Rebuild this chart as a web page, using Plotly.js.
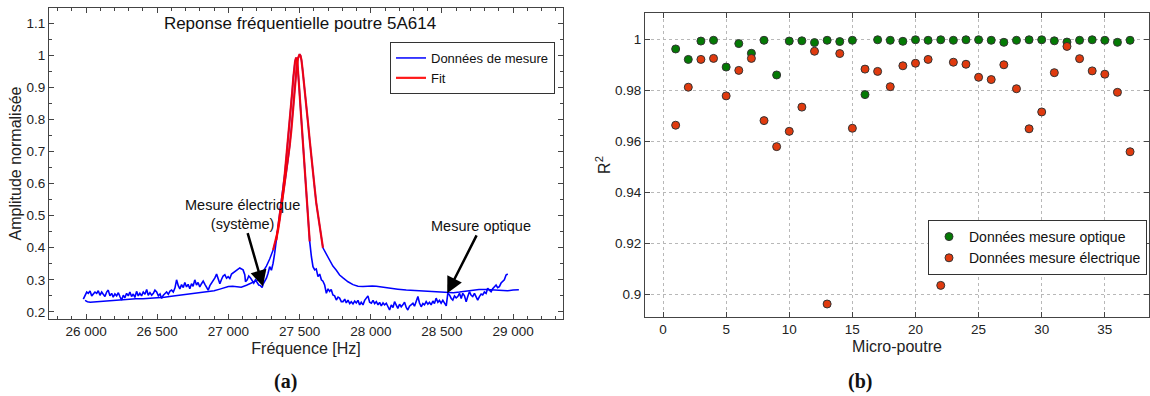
<!DOCTYPE html>
<html>
<head>
<meta charset="utf-8">
<script src="https://cdn.plot.ly/plotly-3.0.1.min.js"></script>
<style>html,body{margin:0;padding:0;background:#fff;}#chart{width:1150px;height:396px;}</style>
</head>
<body>
<div id="chart"></div>
<script>
// ---- (a) Frequency response, smooth measurement curve ----
const freqSmooth = [25993,26010,26030,26060,26100,26150,26200,26250,26300,26350,26400,26450,26500,26550,26600,26650,26700,26750,26800,26850,26900,26940,26970,27000,27030,27060,27090,27127,27173,27200,27220,27243,27267,27290,27314,
 27337,27349,27361,27372,27384,27396,27407,27419,27431,27443,27454,27463,27472,27480,27489,27495,27500,27507,27513,27521,27530,27539,27548,27559,27571,27582,27594,27606,27617,27629,27641,27652,27664,
 27688,27711,27734,27758,27781,27805,27840,27875,27910,27945,27980,28010,28039,28080,28132,28190,28249,28320,28389,28460,28530,28580,28623,28670,28716,28760,28810,28860,28903,28960,29000,29040];
const ampSmooth = [0.236,0.232,0.230,0.231,0.233,0.235,0.237,0.239,0.240,0.241,0.241,0.242,0.244,0.246,0.249,0.252,0.254,0.256,0.259,0.262,0.266,0.271,0.276,0.279,0.280,0.278,0.277,0.283,0.291,0.298,0.310,0.325,0.343,0.365,0.393,
 0.430,0.455,0.490,0.525,0.560,0.600,0.635,0.675,0.720,0.770,0.830,0.880,0.930,0.965,0.990,1.000,1.003,0.998,0.985,0.955,0.920,0.880,0.840,0.790,0.735,0.680,0.630,0.585,0.540,0.500,0.465,0.432,0.400,
 0.380,0.362,0.343,0.330,0.315,0.306,0.294,0.285,0.280,0.279,0.281,0.281,0.280,0.277,0.274,0.271,0.268,0.266,0.264,0.262,0.261,0.260,0.262,0.265,0.268,0.270,0.270,0.268,0.266,0.266,0.268,0.269];

// ---- (a) Frequency response, noisy measurement curve ----
const freqNoisy = [25981,25995,26005,26016,26028,26040,26051,26063,26075,26086,26098,26110,26121,26133,26145,26156,26168,26180,26191,26203,26215,26227,26238,26250,26262,26273,26285,26297,26308,26320,26332,26343,26355,26367,26378,26390,26402,26414,26426,26437,26449,26461,26473,26484,26496,26508,26520,26531,26543,26555,26566,26578,26590,26601,26613,26625,26636,26648,26659,26671,26683,26694,26706,26717,26729,26741,26752,26764,26776,26787,26799,26811,26823,26835,26846,26858,26870,26881,26893,26905,26917,26928,26940,26952,26963,26975,26987,26998,27010,27022,27033,27045,27057,27068,27080,27092,27103,27115,27120,27132,27143,27155,27167,27178,27190,27202,27213,27225,27237,27243,27255,27267,27278,27290,27302,27314,27325,27337,
 27349,27361,27372,27384,27396,27407,27419,27431,27440,27449,27456,27462,27468,27474,27480,27485,27489,27497,27506,27515,27524,27533,27543,27551,27559,27565,27571,
 27583,27594,27606,27617,27629,27641,27653,27664,27676,27688,27700,27711,27722,27734,27746,27758,27770,27781,27793,27805,27817,27828,27840,27852,27863,27875,27887,27898,27910,27922,27933,27945,27957,27968,27980,27992,28004,28016,28027,28039,28051,28062,28074,28086,28097,28109,28121,28132,28144,28156,28167,28179,28190,28202,28214,28225,28237,28249,28260,28272,28284,28296,28307,28319,28331,28342,28354,28366,28377,28389,28401,28412,28424,28436,28447,28459,28471,28482,28494,28506,28518,28530,28541,28553,28565,28576,28588,28600,28611,28623,28635,28646,28658,28670,28681,28693,28705,28716,28728,28740,28751,28763,28775,28786,28798,28810,28821,28833,28845,28856,28868,28880,28891,28903,28915,28927,28938,28950,28962];
const ampNoisy = [0.240,0.252,0.262,0.258,0.265,0.250,0.256,0.262,0.258,0.266,0.252,0.262,0.255,0.248,0.262,0.268,0.250,0.258,0.246,0.256,0.250,0.260,0.248,0.237,0.252,0.244,0.258,0.250,0.262,0.248,0.256,0.245,0.264,0.250,0.258,0.250,0.262,0.255,0.270,0.252,0.260,0.252,0.258,0.268,0.262,0.250,0.256,0.242,0.252,0.258,0.262,0.255,0.265,0.268,0.262,0.275,0.300,0.282,0.272,0.285,0.276,0.292,0.278,0.286,0.272,0.288,0.280,0.300,0.284,0.292,0.278,0.288,0.296,0.286,0.275,0.268,0.282,0.290,0.296,0.306,0.318,0.300,0.288,0.302,0.312,0.316,0.305,0.310,0.304,0.318,0.322,0.326,0.330,0.334,0.337,0.334,0.331,0.316,0.294,0.300,0.312,0.306,0.296,0.290,0.300,0.292,0.284,0.282,0.276,0.286,0.296,0.305,0.320,0.341,0.330,0.352,0.383,0.424,
 0.460,0.500,0.540,0.580,0.630,0.680,0.735,0.790,0.840,0.890,0.930,0.960,0.980,0.990,0.990,0.975,0.955,0.900,0.840,0.780,0.715,0.650,0.580,0.520,0.470,0.445,0.420,
 0.372,0.341,0.331,0.334,0.310,0.318,0.300,0.296,0.284,0.258,0.272,0.264,0.270,0.253,0.250,0.237,0.246,0.243,0.232,0.232,0.240,0.228,0.237,0.226,0.232,0.225,0.234,0.228,0.236,0.222,0.230,0.222,0.236,0.242,0.250,0.230,0.227,0.236,0.226,0.232,0.222,0.230,0.219,0.228,0.222,0.227,0.215,0.206,0.222,0.214,0.232,0.220,0.211,0.224,0.216,0.222,0.230,0.214,0.206,0.218,0.224,0.227,0.218,0.236,0.248,0.228,0.216,0.226,0.222,0.232,0.224,0.230,0.222,0.234,0.226,0.243,0.230,0.236,0.227,0.236,0.228,0.219,0.258,0.253,0.242,0.237,0.250,0.244,0.248,0.258,0.242,0.258,0.250,0.232,0.248,0.263,0.252,0.248,0.258,0.246,0.237,0.248,0.256,0.253,0.262,0.258,0.274,0.268,0.263,0.272,0.278,0.284,0.276,0.279,0.290,0.294,0.300,0.315,0.318];

// ---- (a) Fits ----
const fitNarrowFreq = [27337,27349,27361,27372,27384,27396,27407,27419,27431,27440,27449,27456,27462,27468,27474,27480,27485,27489,27497,27506,27515,27524,27533,27543,27551,27559,27565,27571];
const fitNarrowAmp  = [0.424,0.460,0.500,0.540,0.580,0.630,0.680,0.735,0.790,0.840,0.890,0.930,0.960,0.980,0.990,0.990,0.975,0.955,0.900,0.840,0.780,0.715,0.650,0.580,0.520,0.470,0.445,0.420];
const fitWideFreq = [27314,27337,27349,27361,27372,27384,27396,27407,27419,27431,27443,27454,27463,27472,27480,27489,27495,27500,27507,27513,27521,27530,27539,27548,27559,27571,27582,27594,27606,27617,27629,27641,27652,27664];
const fitWideAmp  = [0.393,0.430,0.455,0.490,0.525,0.560,0.600,0.635,0.675,0.720,0.770,0.830,0.880,0.930,0.965,0.990,1.000,1.003,0.998,0.985,0.955,0.920,0.880,0.840,0.790,0.735,0.680,0.630,0.585,0.540,0.500,0.465,0.432,0.400];

// ---- (b) R² per micro-beam ----
const microPoutre = [1,2,3,4,5,6,7,8,9,10,11,12,13,14,15,16,17,18,19,20,21,22,23,24,25,26,27,28,29,30,31,32,33,34,35,36,37];
const r2Optique = [0.9961,0.9920,0.9992,0.9995,0.9890,0.9982,0.9944,0.9995,0.9859,0.9992,0.9993,0.9986,0.9995,0.9990,0.9995,0.9782,0.9997,0.9995,0.9991,0.9997,0.9995,0.9997,0.9995,0.9997,0.9997,0.9995,0.9987,0.9995,0.9997,0.9997,0.9993,0.9988,0.9995,0.9997,0.9995,0.9987,0.9995];
const r2Electrique = [0.9662,0.9811,0.9920,0.9924,0.9777,0.9877,0.9924,0.9680,0.9578,0.9638,0.9733,0.9952,0.8961,0.9943,0.9650,0.9882,0.9873,0.9813,0.9895,0.9905,0.9920,0.9034,0.9909,0.9901,0.9850,0.9841,0.9899,0.9805,0.9648,0.9714,0.9868,0.9971,0.9923,0.9875,0.9862,0.9791,0.9558];

// ---- labels ----
const txtTitle = "Reponse fréquentielle poutre 5A614";
const txtXa = "Fréquence [Hz]", txtYa = "Amplitude normalisée";
const txtXb = "Micro-poutre", txtYb = "R<sup>2</sup>";
const legA = ["Données de mesure", "Fit"];
const legB = ["Données mesure optique", "Données mesure électrique"];
const txtElec = "Mesure électrique<br>(système)", txtOpt = "Mesure optique";

const FONT = "Liberation Sans, Arial, sans-serif";
const BLUE = "#0000ff", RED = "#ff0000";

const traces = [
  {x: freqNoisy, y: ampNoisy, type: "scatter", mode: "lines", line: {color: BLUE, width: 1.6}, showlegend: false, xaxis: "x", yaxis: "y", hoverinfo: "skip"},
  {x: freqSmooth, y: ampSmooth, type: "scatter", mode: "lines", name: legA[0], line: {color: BLUE, width: 1.5}, xaxis: "x", yaxis: "y", legend: "legend"},
  {x: fitNarrowFreq, y: fitNarrowAmp, type: "scatter", mode: "lines", name: legA[1], line: {color: RED, width: 2.2}, opacity: 0.9, xaxis: "x", yaxis: "y", legend: "legend"},
  {x: fitWideFreq, y: fitWideAmp, type: "scatter", mode: "lines", showlegend: false, line: {color: RED, width: 2.2}, opacity: 0.9, xaxis: "x", yaxis: "y"},
  {x: microPoutre, y: r2Optique, type: "scatter", mode: "markers", name: legB[0], marker: {color: "#047a04", size: 8, line: {color: "#333", width: 1}}, xaxis: "x2", yaxis: "y2", legend: "legend2"},
  {x: microPoutre, y: r2Electrique, type: "scatter", mode: "markers", name: legB[1], marker: {color: "#e03a0e", size: 8, line: {color: "#333", width: 1}}, xaxis: "x2", yaxis: "y2", legend: "legend2"}
];

const tickFont = {family: FONT, size: 13.5, color: "#222"};
const titleFont = {family: FONT, size: 16, color: "#222"};
const axCommon = {showline: true, linecolor: "#444", linewidth: 1, mirror: "ticks", ticks: "inside", ticklen: 5, tickcolor: "#444", tickfont: tickFont, zeroline: false, automargin: false};

const layout = {
  width: 1150, height: 396,
  margin: {l: 0, r: 0, t: 0, b: 0},
  paper_bgcolor: "#fff", plot_bgcolor: "#fff",
  separators: ". ",
  font: {family: FONT, color: "#222"},
  title: {text: txtTitle, x: 300/1150, xanchor: "center", y: 1 - 23/396, yanchor: "middle", font: {family: FONT, size: 17, color: "#111"}},
  xaxis: Object.assign({}, axCommon, {domain: [49/1150, 563/1150], anchor: "y", range: [25740, 29350], tick0: 0, dtick: 500, showgrid: false,
    tickformat: ",d", exponentformat: "none",
    minor: {ticks: "inside", dtick: 100, ticklen: 3, tickcolor: "#444", showgrid: false},
    title: {text: txtXa, font: titleFont, standoff: 4}}),
  yaxis: Object.assign({}, axCommon, {domain: [(396-319)/396, (396-8)/396], anchor: "x", range: [0.178, 1.147], dtick: 0.1, tick0: 0, showgrid: false,
    minor: {ticks: "inside", dtick: 0.05, ticklen: 3, tickcolor: "#444", showgrid: false},
    title: {text: txtYa, font: titleFont, standoff: 0}}),
  xaxis2: Object.assign({}, axCommon, {domain: [645/1150, 1149/1150], anchor: "y2", range: [-1.43, 38.5], tick0: 0, dtick: 5,
    showgrid: true, gridcolor: "#b8b8b8", griddash: "dot", gridwidth: 1,
    title: {text: txtXb, font: titleFont, standoff: 4}}),
  yaxis2: Object.assign({}, axCommon, {domain: [(396-317)/396, (396-13)/396], anchor: "x2", range: [0.891, 1.0102], tick0: 0, dtick: 0.02,
    showgrid: true, gridcolor: "#b8b8b8", griddash: "dot", gridwidth: 1,
    title: {text: txtYb, font: titleFont, standoff: 0}}),
  legend: {x: 555/1150, y: (396-42)/396, xanchor: "right", yanchor: "top", bgcolor: "#fff", bordercolor: "#333", borderwidth: 1,
    font: {family: FONT, size: 13, color: "#111"}, tracegroupgap: 0, itemwidth: 30},
  legend2: {x: 1147/1150, y: (396-220)/396, xanchor: "right", yanchor: "top", bgcolor: "#fff", bordercolor: "#333", borderwidth: 1,
    font: {family: FONT, size: 14, color: "#111"}, tracegroupgap: 0, itemwidth: 30},
  annotations: [
    {xref: "x", yref: "y", x: 27243, y: 0.279, axref: "x", ayref: "y", ax: 27097, ay: 0.505, text: txtElec, showarrow: true, arrowhead: 2, arrowsize: 1.3, arrowwidth: 2.5, arrowcolor: "#000", font: {family: FONT, size: 14.5, color: "#111"}},
    {xref: "x", yref: "y", x: 28537, y: 0.258, axref: "x", ayref: "y", ax: 28777, ay: 0.468, text: txtOpt, showarrow: true, arrowhead: 2, arrowsize: 1.3, arrowwidth: 2.5, arrowcolor: "#000", font: {family: FONT, size: 14.5, color: "#111"}},
    {xref: "paper", yref: "paper", x: 285/1150, y: 1 - 381/396, text: "<b>(a)</b>", showarrow: false, xanchor: "center", yanchor: "middle", font: {family: "Liberation Serif, DejaVu Serif, serif", size: 20, color: "#111"}},
    {xref: "paper", yref: "paper", x: 860/1150, y: 1 - 381/396, text: "<b>(b)</b>", showarrow: false, xanchor: "center", yanchor: "middle", font: {family: "Liberation Serif, DejaVu Serif, serif", size: 20, color: "#111"}}
  ]
};

Plotly.newPlot("chart", traces, layout, {staticPlot: true, displayModeBar: false});
</script>
</body>
</html>
